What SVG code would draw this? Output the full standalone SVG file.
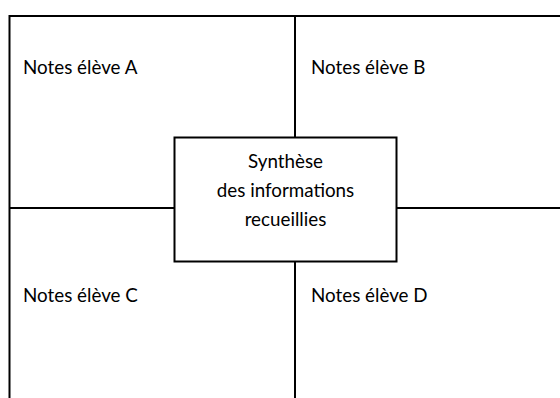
<svg xmlns="http://www.w3.org/2000/svg" width="560" height="398" viewBox="0 0 560 398">
<style>
.ln{stroke:#000;stroke-width:2;fill:none}
.t{font-family:Lato,"Liberation Sans",sans-serif;font-size:18.8px;fill:#000}
.c{text-anchor:middle}
</style>
<rect width="560" height="398" fill="#fff"/>
<g id="connectors">
<path class="ln" d="M9.5,400 V16 H562"/>
<path class="ln" d="M295,16 V137 M295,262 V400"/>
<path class="ln" d="M9.5,208 H174 M397,208 H562"/>
</g>
<g id="nodeA"><text class="t" x="23" y="74">Notes élève A</text></g>
<g id="nodeB"><text class="t" x="311" y="74">Notes élève B</text></g>
<g id="nodeC"><text class="t" x="23" y="302">Notes élève C</text></g>
<g id="nodeD"><text class="t" x="311" y="302">Notes élève D</text></g>
<g id="synthese">
<rect class="ln" x="174.5" y="137.5" width="222" height="124" stroke="#222"/>
<text class="t c" x="285.5" y="168">Synthèse</text>
<text class="t c" x="285.5" y="197">des informations</text>
<text class="t c" x="285.5" y="226">recueillies</text>
</g>
</svg>
